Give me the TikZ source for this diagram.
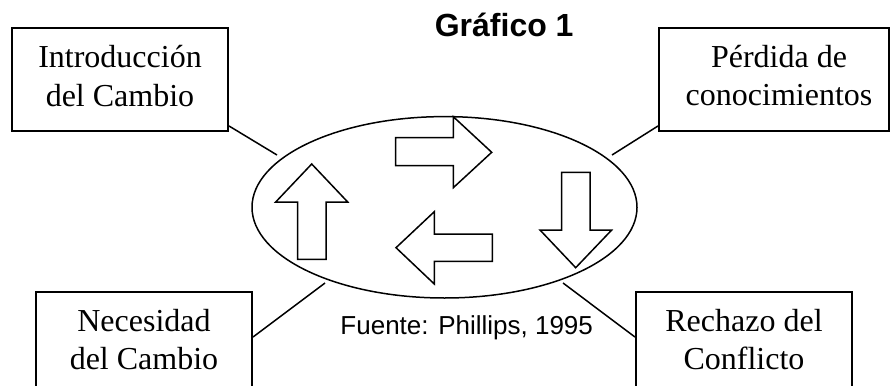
\documentclass[tikz,border=0pt]{standalone}
\usepackage{fontspec}
\setmainfont{Liberation Serif}
\newfontfamily\arialf{Liberation Sans}
\usetikzlibrary{shapes.geometric}
\tikzset{
  boxnode/.style={draw, line width=1.9pt, minimum width=#1, minimum height=103pt, inner sep=0pt},
  boxtext/.style={align=center, inner sep=0pt, font=\fontsize{32}{38.4}\selectfont},
  ring/.style={draw, ellipse, line width=1.5pt, minimum width=385pt, minimum height=181.4pt, inner sep=0pt},
  link/.style={line width=1.5pt},
  bigarrow/.style={draw, line width=1.5pt, line join=miter, fill=white},
}
\begin{document}
\begin{tikzpicture}[x=1pt,y=-1pt]
\useasboundingbox (0,0) rectangle (890,385);
\fill[white] (0,0) rectangle (890,385);
\clip (0,0) rectangle (890,385);

% boxes
\node[boxnode=216pt] (tl) at (120,79.5) {};
\node[boxnode=230pt] (tr) at (774,79.5) {};
\node[boxnode=216pt] (bl) at (144,343.5) {};
\node[boxnode=216pt] (br) at (744,343.5) {};

\node[boxtext] (tlt) at ([yshift=3.6pt]tl.center) {Introducción\\del Cambio};
\node[boxtext] (trt) at ([xshift=5pt,yshift=4.1pt]tr.center) {Pérdida de\\conocimientos};
\node[boxtext] (blt) at ([yshift=4.1pt]bl.center) {Necesidad\\del Cambio};
\node[boxtext] (brt) at ([yshift=4.1pt]br.center) {Rechazo del\\Conflicto};

% ellipse
\node[ring] (ell) at (444.5,207.3) {};

% title and source
\node[anchor=base, inner sep=0pt, font=\arialf\bfseries\fontsize{32}{38}\selectfont] (title) at (504.2,36.7) {Gráfico 1};
\node[anchor=base, inner sep=0pt, font=\arialf\fontsize{26}{31}\selectfont] (src) at (466.7,334.3) {Fuente: Phillips, 1995};

% connector ends near the ellipse
\coordinate (c1) at (277,155);
\coordinate (c2) at (612,155);
\coordinate (c3) at (325,283);
\coordinate (c4) at (563,283);

\draw[link] ([yshift=6pt]tl.south east) -- (c1);
\draw[link] ([yshift=6pt]tr.south west) -- (c2);
\draw[link] ([yshift=-46pt]bl.north east) -- (c3);
\draw[link] (c4) -- ([yshift=-46pt]br.north west);

% arrows
% up
\draw[bigarrow] (311.7,164) -- (347.7,202) -- (326,202) -- (326,259.3) -- (297.7,259.3) -- (297.7,202) -- (275.7,202) -- cycle;
% right
\draw[bigarrow] (491.7,152.3) -- (453.3,187.7) -- (453.3,165.7) -- (395.7,165.7) -- (395.7,137.7) -- (453.3,137.7) -- (453.3,116.7) -- cycle;
% left
\draw[bigarrow] (396,247.7) -- (434.3,211.7) -- (434.3,234) -- (492.3,234) -- (492.3,261.3) -- (434.3,261.3) -- (434.3,284) -- cycle;
% down
\draw[bigarrow] (575.7,267.7) -- (540,230) -- (561.7,230) -- (561.7,172.3) -- (590,172.3) -- (590,230) -- (611.7,230) -- cycle;
\end{tikzpicture}
\end{document}
